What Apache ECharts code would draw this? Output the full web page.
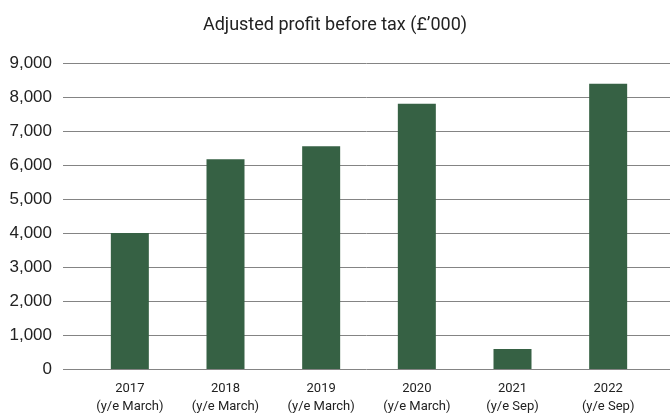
<!DOCTYPE html>
<html>
<head>
<meta charset="utf-8">
<script src="https://cdn.jsdelivr.net/npm/echarts@6/dist/echarts.min.js"></script>
<style>
  html, body { margin: 0; padding: 0; background: #fff; }
  #main { width: 670px; height: 417px; }
</style>
</head>
<body>
<div id="main"></div>
<script>
// chart data
const years = ['2017', '2018', '2019', '2020', '2021', '2022'];
const periods = ['(y/e March)', '(y/e March)', '(y/e March)', '(y/e March)', '(y/e Sep)', '(y/e Sep)'];
const profit = [4000, 6170, 6550, 7800, 590, 8390];

const labels = years.map((y, i) => y + '\n' + periods[i]);

const myChart = echarts.init(document.getElementById('main'));

const options = {
  backgroundColor: '#fff',
  animation: false,
  title: {
    text: 'Adjusted profit before tax (£’000)',
    left: 'center',
    top: 11,
    textStyle: {
      fontFamily: 'Roboto',
      fontWeight: 'normal',
      fontSize: 18,
      color: '#222'
    }
  },
  // grid 0 carries the value gridlines, grid 1 carries the bars
  grid: [
    { left: 63, right: 0, top: 63, bottom: 48 },
    { left: 82, right: 14, top: 63, bottom: 48 }
  ],
  xAxis: [
    { type: 'category', gridIndex: 0, data: labels, show: false },
    {
      type: 'category',
      gridIndex: 1,
      data: labels,
      axisLine: { show: false },
      axisTick: { show: false },
      axisLabel: {
        margin: 11,
        fontFamily: 'Roboto',
        fontSize: 13,
        lineHeight: 18,
        color: '#222'
      }
    }
  ],
  yAxis: [
    {
      type: 'value',
      gridIndex: 0,
      min: 0,
      max: 9000,
      interval: 1000,
      axisLine: { show: false },
      axisTick: { show: false },
      axisLabel: {
        margin: 11,
        fontFamily: 'Liberation Sans',
        fontSize: 17,
        color: '#222',
        formatter: v => v.toLocaleString('en-GB')
      },
      splitLine: { lineStyle: { color: '#848484', width: 1 } }
    },
    {
      type: 'value',
      gridIndex: 1,
      min: 0,
      max: 9000,
      interval: 1000,
      show: false,
      splitLine: { show: false }
    }
  ],
  series: [{
    type: 'bar',
    xAxisIndex: 1,
    yAxisIndex: 1,
    data: profit,
    barWidth: 38,
    itemStyle: { color: '#366144' }
  }]
};

myChart.setOption(options);
</script>
</body>
</html>
